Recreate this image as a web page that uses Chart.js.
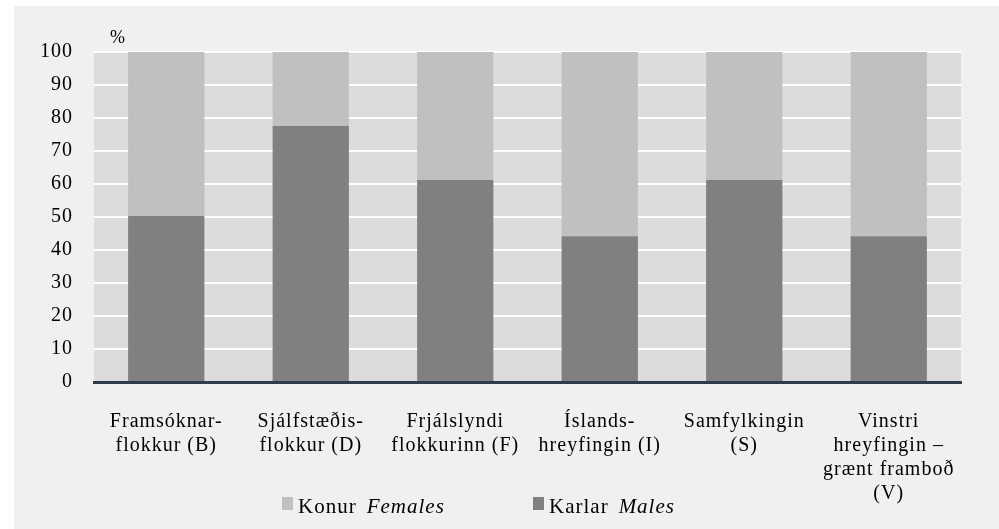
<!DOCTYPE html>
<html>
<head>
<meta charset="utf-8">
<script src="https://cdn.jsdelivr.net/npm/chart.js@4"></script>
<style>
  html, body { margin: 0; padding: 0; background: #ffffff; }
  #wrap { width: 999px; height: 529px; }
</style>
</head>
<body>
<div id="wrap"><canvas id="chart" width="999" height="529"></canvas></div>
<script>
// Party names (multi-line labels as printed)
const parties = [
  ['Framsóknar-', 'flokkur (B)'],
  ['Sjálfstæðis-', 'flokkur (D)'],
  ['Frjálslyndi', 'flokkurinn (F)'],
  ['Íslands-', 'hreyfingin (I)'],
  ['Samfylkingin', '(S)'],
  ['Vinstri', 'hreyfingin –', 'grænt framboð', '(V)']
];
const males = [50.3, 77.6, 61.2, 44.2, 61.2, 44.2];
const females = [49.7, 22.4, 38.8, 55.8, 38.8, 55.8];
const yTicks = [0, 10, 20, 30, 40, 50, 60, 70, 80, 90, 100];
const legendItems = [
  { is: 'Konur', en: 'Females', color: '#c0c0c0' },
  { is: 'Karlar', en: 'Males', color: '#808080' }
];

const serif = '"Liberation Serif", "Times New Roman", serif';

// backgrounds, % label and the mixed-font legend
const decor = {
  id: 'decor',
  beforeDraw(chart) {
    const ctx = chart.ctx;
    const a = chart.chartArea;
    ctx.save();
    ctx.fillStyle = '#ffffff';
    ctx.fillRect(0, 0, chart.width, chart.height);
    ctx.fillStyle = '#f0f0f0';
    ctx.fillRect(14, 6, chart.width - 14, chart.height - 6);
    ctx.fillStyle = '#dcdcdc';
    ctx.fillRect(a.left, a.top, a.right - a.left, a.bottom - a.top);
    ctx.restore();
    // the printed labels are set a little loose
    ctx.letterSpacing = '1px';
  },
  afterDraw(chart) {
    const ctx = chart.ctx;
    ctx.save();
    ctx.fillStyle = '#000';
    ctx.textBaseline = 'alphabetic';
    ctx.font = '18px ' + serif;
    ctx.fillText('%', 110, 43);

    const starts = [282, 533];
    legendItems.forEach((it, i) => {
      let x = starts[i];
      ctx.fillStyle = it.color;
      ctx.fillRect(x, 497, 11, 13);
      x += 16;
      ctx.fillStyle = '#000';
      ctx.font = '21px ' + serif;
      ctx.fillText(it.is, x, 513);
      x += ctx.measureText(it.is).width + 10;
      ctx.font = 'italic 21px ' + serif;
      ctx.fillText(it.en, x, 513);
    });
    ctx.restore();
  }
};

new Chart(document.getElementById('chart'), {
  type: 'bar',
  data: {
    labels: parties,
    datasets: [
      { label: 'Karlar Males', data: males, backgroundColor: '#808080' },
      { label: 'Konur Females', data: females, backgroundColor: '#c0c0c0' }
    ]
  },
  options: {
    responsive: false,
    animation: false,
    layout: { padding: { left: 14, top: 52, right: 38, bottom: 0 } },
    datasets: { bar: { categoryPercentage: 1, barPercentage: 0.528 } },
    plugins: { legend: { display: false }, tooltip: { enabled: false } },
    scales: {
      x: {
        stacked: true,
        grid: { display: false },
        border: { display: true, color: '#2b3a55', width: 3 },
        ticks: {
          color: '#000',
          font: { family: serif, size: 20, lineHeight: '24px' },
          padding: 20,
          maxRotation: 0,
          autoSkip: false
        },
        afterFit(scale) { scale.height = 147; }
      },
      y: {
        stacked: true,
        min: 0,
        max: 100,
        afterBuildTicks(scale) { scale.ticks = yTicks.map(v => ({ value: v })); },
        grid: {
          color: ctx => ctx.tick && ctx.tick.value === 0 ? 'rgba(0,0,0,0)' : '#ffffff',
          lineWidth: 2,
          drawTicks: false
        },
        border: { display: false },
        ticks: {
          color: '#000',
          font: { family: serif, size: 20 },
          padding: 21
        },
        afterFit(scale) { scale.width = 80; }
      }
    }
  },
  plugins: [decor]
});
</script>
</body>
</html>
